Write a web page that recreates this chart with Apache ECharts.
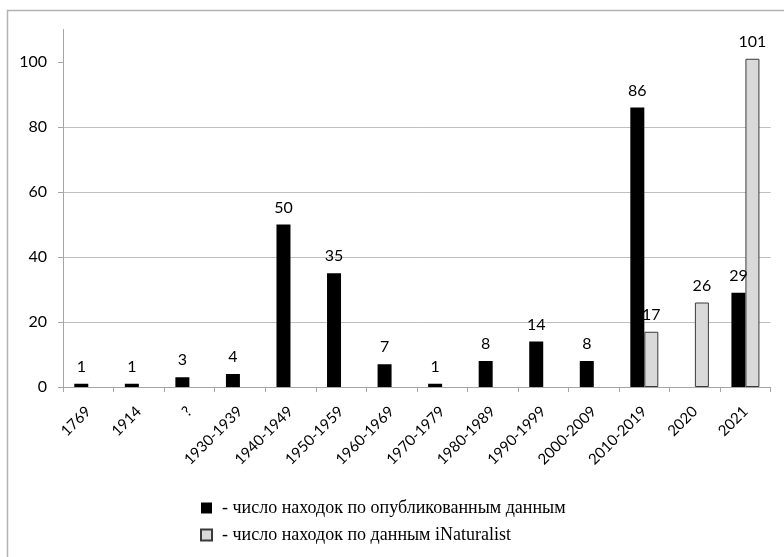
<!DOCTYPE html>
<html>
<head>
<meta charset="utf-8">
<script src="https://cdn.jsdelivr.net/npm/echarts@6/dist/echarts.min.js"></script>
<style>
  html, body { margin: 0; padding: 0; background: #fff; }
  #chart { width: 784px; height: 557px; }
</style>
</head>
<body>
<div id="chart"></div>
<script>
// Periods of records
const categories = ['1769', '1914', '?', '1930-1939', '1940-1949', '1950-1959', '1960-1969',
  '1970-1979', '1980-1989', '1990-1999', '2000-2009', '2010-2019', '2020', '2021'];

// Records from published sources
const publishedCounts = [1, 1, 3, 4, 50, 35, 7, 1, 8, 14, 8, 86, null, 29];

// Records from iNaturalist
const inaturalistCounts = [null, null, null, null, null, null, null, null, null, null, null, 17, 26, 101];

// Y axis ticks
const yTicks = [0, 20, 40, 60, 80, 100];

const seriesNames = ['число находок по опубликованным данным', 'число находок по данным iNaturalist'];

const chart = echarts.init(document.getElementById('chart'), null, { renderer: 'canvas' });

const sansFont = 'Lato, "Open Sans", sans-serif';

const valueLabel = {
  show: true,
  position: 'top',
  distance: 9,
  color: '#000',
  fontFamily: sansFont,
  fontSize: 16
};

chart.setOption({
  animation: false,
  backgroundColor: '#fff',
  graphic: [{
    type: 'rect',
    shape: { x: 7.5, y: 10.5, width: 900, height: 700 },
    style: { fill: 'none', stroke: '#b3b3b3', lineWidth: 1.5 },
    z: -10
  }],
  grid: { left: 63, top: 29.5, right: 13.3, bottom: 170, containLabel: false },
  legend: {
    orient: 'vertical',
    left: 200,
    top: 499,
    padding: 0,
    itemWidth: 11,
    itemHeight: 11,
    itemGap: 9,
    icon: 'rect',
    formatter: '- {name}',
    textStyle: {
      fontFamily: '"Liberation Serif", "Times New Roman", serif',
      fontSize: 18,
      color: '#000',
      padding: [0, 0, 0, 5]
    },
    data: seriesNames
  },
  xAxis: {
    type: 'category',
    data: categories,
    axisLine: { lineStyle: { color: '#a6a6a6', width: 1 } },
    axisTick: { show: true, length: 5, lineStyle: { color: '#a6a6a6' } },
    axisLabel: {
      interval: 0,
      rotate: 45,
      margin: 22,
      color: '#000',
      fontFamily: sansFont,
      fontSize: 15
    },
    splitLine: { show: false }
  },
  yAxis: {
    type: 'value',
    min: 0,
    max: 110,
    interval: 20,
    axisLine: { show: true, lineStyle: { color: '#a6a6a6', width: 1 } },
    axisTick: { show: true, length: 5, lineStyle: { color: '#a6a6a6' }, customValues: yTicks },
    axisLabel: {
      margin: 16,
      color: '#000',
      fontFamily: sansFont,
      fontSize: 16,
      customValues: yTicks
    },
    splitLine: { show: true, showMaxLine: false, lineStyle: { color: '#bfbfbf', width: 1 } }
  },
  series: [
    {
      name: seriesNames[0],
      type: 'bar',
      data: publishedCounts,
      barWidth: 14,
      barGap: '0%',
      itemStyle: { color: '#000' },
      label: valueLabel
    },
    {
      name: seriesNames[1],
      type: 'bar',
      data: inaturalistCounts,
      barWidth: 14,
      barGap: '0%',
      itemStyle: { color: '#d9d9d9', borderColor: '#3a3a3a', borderWidth: 1 },
      label: valueLabel
    }
  ]
});
</script>
</body>
</html>
